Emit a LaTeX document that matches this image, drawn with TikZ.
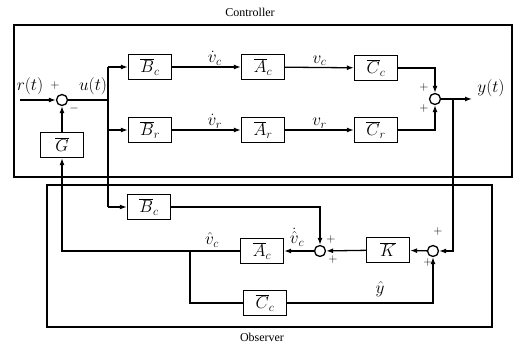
\documentclass[tikz,border=0pt]{standalone}
\usepackage{fontspec}
\setmainfont{Liberation Serif}
\usetikzlibrary{arrows.meta}
\tikzset{
  blk/.style={draw,line width=1.3pt,minimum width=43pt,minimum height=25pt,inner sep=0pt,font=\fontsize{17}{17}\selectfont},
  sumj/.style={draw,circle,line width=1.3pt,minimum size=11pt,inner sep=0pt},
  sig/.style={line width=1.3pt,-{Latex[length=7pt,width=5pt]}},
  wire/.style={line width=1.3pt},
  lbl/.style={font=\fontsize{17}{17}\selectfont,inner sep=1pt},
  sgn/.style={font=\fontsize{12}{12}\selectfont,inner sep=0pt}
}
\begin{document}
\begin{tikzpicture}[x=1pt,y=-1pt]
\useasboundingbox (0,0) rectangle (517,344);
\draw[wire] (14,25) rectangle (512,177);
\draw[wire] (47,185) rectangle (492,327);
\node[font=\fontsize{12}{12}\selectfont] (ctl) at (250,12) {Controller};
\node[font=\fontsize{12}{12}\selectfont] (obs) at (262,337) {Observer};

\node[sumj] (sumU) at (62,100) {};
\node[blk] (G) at (62,145) {$\overline{G}$};
\node[blk] (Bc) at (150,67) {$\overline{B}_c$};
\node[blk] (Br) at (150,130) {$\overline{B}_r$};
\node[blk] (Ac) at (263,67) {$\overline{A}_c$};
\node[blk] (Ar) at (263,130) {$\overline{A}_r$};
\node[blk] (Cc) at (376,68) {$\overline{C}_c$};
\node[blk] (Cr) at (376,130) {$\overline{C}_r$};
\node[sumj] (sumY) at (435,99) {};

\node[blk] (Bo) at (149,207) {$\overline{B}_c$};
\node[blk] (Ao) at (262,251) {$\overline{A}_c$};
\node[blk] (Co) at (265,303) {$\overline{C}_c$};
\node[blk] (K) at (388,250) {$\overline{K}$};
\node[sumj] (sumA) at (320,251) {};
\node[sumj] (sumB) at (433,251) {};

\coordinate (rin) at (20,100);
\coordinate (uj) at (108,100);
\coordinate (ut) at (108,67);
\coordinate (ub) at (108,207);
\coordinate (yout) at (472,99);
\coordinate (tap) at (453,99);
\coordinate (obr) at (190,251);

\draw[sig] (rin) -- (sumU);
\draw[sig] (G) -- (sumU);
\draw[wire] (sumU) -- (uj);
\draw[wire] (ut) -- (ub);
\draw[sig] (ut) -- (Bc);
\draw[sig] (uj |- Br) -- (Br);
\draw[sig] (ub) -- (Bo);
\draw[sig] (Bc) -- node[lbl,above,pos=0.62] {$\dot{v}_c$} (Ac);
\draw[sig] (Br) -- node[lbl,above,pos=0.62] {$\dot{v}_r$} (Ar);
\draw[sig] (Ac) -- node[lbl,above] {$v_c$} (Cc);
\draw[sig] (Ar) -- node[lbl,above] {$v_r$} (Cr);
\draw[sig] (Cc) -| (sumY);
\draw[sig] (Cr) -| (sumY);
\draw[sig] (sumY) -- (yout);
\draw[sig] (tap) |- (sumB);
\draw[sig] (sumB) -- (K);
\draw[sig] (K) -- (sumA);
\draw[sig] (sumA) -- (Ao);
\draw[sig] (Bo) -| (sumA);
\draw[sig] (Ao) -| (G);
\draw[wire] (obr) |- (Co);
\draw[sig] (Co) -| (sumB);

\node[lbl] (rl) at (30,86) {$r(t)$};
\node[sgn] at (55,86) {$+$};
\node[lbl] (ul) at (93,86) {$u(t)$};
\node[sgn] at (74,109) {$-$};
\node[lbl] (yl) at (491,88) {$y(t)$};
\node[sgn] at (424,88) {$+$};
\node[sgn] at (424,109) {$+$};
\node[lbl] (vh) at (212,240) {$\hat{v}_c$};
\node[lbl] (vdh) at (297,237) {$\dot{\hat{v}}_c$};
\node[sgn] at (331,240) {$+$};
\node[sgn] at (333,260) {$+$};
\node[sgn] at (438,232) {$+$};
\node[sgn] at (428,263) {$+$};
\node[lbl] (yh) at (380,289) {$\hat{y}$};
\end{tikzpicture}
\end{document}
